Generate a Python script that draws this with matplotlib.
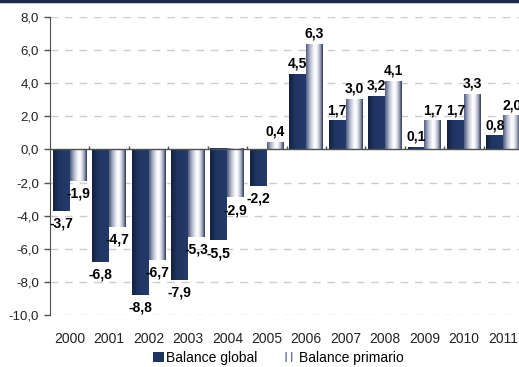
import numpy as np
import matplotlib
matplotlib.use('Agg')
import matplotlib.pyplot as plt
from matplotlib.colors import LinearSegmentedColormap
from matplotlib.patches import Patch
from matplotlib.lines import Line2D

plt.rcParams['font.family'] = ['Liberation Sans', 'DejaVu Sans']

years = ['2000', '2001', '2002', '2003', '2004', '2005',
         '2006', '2007', '2008', '2009', '2010', '2011']
balance_global = [-3.7, -6.8, -8.8, -7.9, -5.5, -2.2, 4.5, 1.7, 3.2, 0.1, 1.7, 0.8]
balance_primario = [-1.9, -4.7, -6.7, -5.3, -2.9, 0.4, 6.3, 3.0, 4.1, 1.7, 3.3, 2.0]
y_ticks = [8, 6, 4, 2, 0, -2, -4, -6, -8, -10]


def fmt(v):
    return f'{v:.1f}'.replace('.', ',')


navy_cmap = LinearSegmentedColormap.from_list(
    'navy', [(0, '#14213f'), (0.35, '#1f3461'), (1, '#243a6b')])
light_cmap = LinearSegmentedColormap.from_list(
    'light', [(0, '#4e5a7e'), (0.25, '#b8bdd0'), (0.5, '#ffffff'),
              (0.65, '#f4f4f8'), (0.85, '#9ea4bb'), (1, '#2a3352')])

fig = plt.figure(figsize=(5.19, 3.67), dpi=100)
ax = fig.add_axes([50 / 519, 1 - 315 / 367, 473 / 519, 298 / 367])

x = np.arange(len(years))
w = 0.43
b1 = ax.bar(x - w / 2, balance_global, width=w, color='none', zorder=3)
b2 = ax.bar(x + w / 2, balance_primario, width=w, color='none', zorder=3)

grad = np.linspace(0, 1, 64).reshape(1, -1)
for bars, cmap in ((b1, navy_cmap), (b2, light_cmap)):
    for p in bars:
        x0, y0 = p.get_x(), p.get_y()
        x1, y1 = x0 + p.get_width(), y0 + p.get_height()
        ax.imshow(grad, cmap=cmap, aspect='auto', extent=(x0, x1, min(y0, y1), max(y0, y1)),
                  interpolation='bicubic', zorder=3)

# value labels
for bars, vals in ((b1, balance_global), (b2, balance_primario)):
    for p, v in zip(bars, vals):
        cx = p.get_x() + p.get_width() / 2
        if v >= 0:
            ax.annotate(fmt(v), (cx, v), xytext=(0, 3), textcoords='offset points',
                        ha='center', va='bottom', fontsize=10, fontweight='bold', zorder=5)
        else:
            ax.annotate(fmt(v), (cx, v), xytext=(0, -4), textcoords='offset points',
                        ha='center', va='top', fontsize=10, fontweight='bold', zorder=5)

ax.set_xlim(-0.5, len(years) - 0.5)
ax.set_ylim(-10, 8)
ax.set_yticks(y_ticks)
ax.set_yticklabels([fmt(t) for t in y_ticks])
ax.set_xticks(x)
ax.set_xticklabels(years)

for t in y_ticks:
    if t != 0:
        ax.axhline(t, color='#cccccc', lw=1, dashes=(5.5, 5), zorder=1)
ax.axhline(0, color='#505050', lw=1, zorder=4)
ax.vlines(x[:-1] + 0.5, 0, 0.22, color='#505050', lw=1, zorder=4)

for s in ('top', 'right', 'bottom'):
    ax.spines[s].set_visible(False)
ax.spines['left'].set_color('#505050')
ax.tick_params(axis='y', length=4, width=1, color='#505050', labelsize=9.5, pad=4,
               labelcolor='#222222')
ax.tick_params(axis='x', length=0, labelsize=10, pad=12, labelcolor='#222222')

handles = [Patch(facecolor='#1f3461', edgecolor='none'),
           Patch(facecolor='white', edgecolor='#6a7392', hatch='|||', lw=0)]
fig.legend(handles, ['Balance global', 'Balance primario'], loc='center',
           bbox_to_anchor=(278 / 519, 1 - 358 / 367), ncol=2, frameon=False,
           fontsize=10, handlelength=0.8, handleheight=0.75, handletextpad=0.2,
           columnspacing=1.95, borderpad=0)

fig.add_artist(Line2D([0, 1], [0.997, 0.997], color='#1f2a44', lw=2.5,
                      transform=fig.transFigure))

fig.savefig('out.png', dpi=100)
